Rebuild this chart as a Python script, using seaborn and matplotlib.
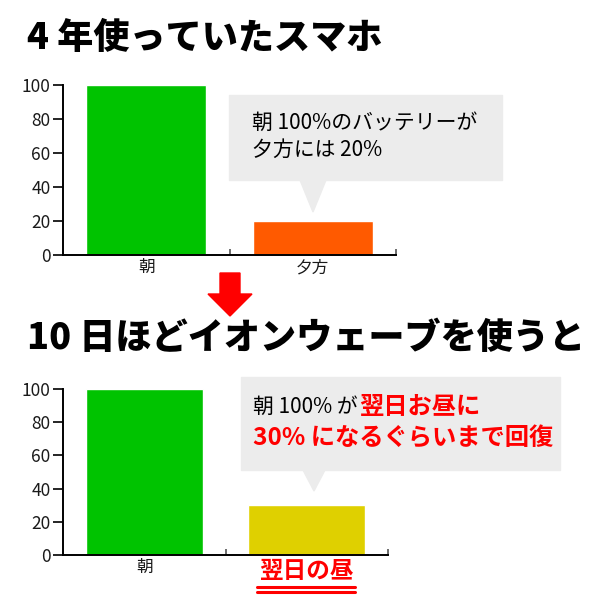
import numpy as np
import pandas as pd
import seaborn as sns
import matplotlib.pyplot as plt
from matplotlib.patches import Rectangle, Polygon, FancyArrow
from matplotlib.lines import Line2D

# data
top_labels = ["朝", "夕方"]
top_values = [100, 20]
top_colors = ["#00c300", "#ff5a00"]
bottom_labels = ["朝", "翌日の昼"]
bottom_values = [100, 30]
bottom_colors = ["#00c300", "#dfd000"]
yticks = [0, 20, 40, 60, 80, 100]

title_top = "4 年使っていたスマホ"
title_bottom = "10 日ほどイオンウェーブを使うと"
note_top = ["朝 100%のバッテリーが", "夕方には 20%"]
note_bottom_black = "朝 100% が"
note_bottom_red = ["翌日お昼に", "30% になるぐらいまで回復"]

sns.set_style("white")
plt.rcParams['font.family'] = ['Noto Sans CJK JP', 'DejaVu Sans']
plt.rcParams['text.color'] = 'black'

W = H = 600
fig = plt.figure(figsize=(6, 6), dpi=100)


def fx(x):
    return x / W


def fy(y):
    return 1 - y / H


def bar_panel(rect, labels, values, colors):
    l, t, r, b = rect
    ax = fig.add_axes([fx(l), fy(b), fx(r) - fx(l), fy(t) - fy(b)])
    df = pd.DataFrame({"cat": labels, "val": values})
    sns.barplot(data=df, x="cat", y="val", hue="cat", palette=colors,
                width=0.72, legend=False, saturation=1, ax=ax)
    ax.set_xlim(-0.5, 1.5)
    ax.set_ylim(0, 100)
    ax.set_yticks(yticks)
    ax.set_xlabel("")
    ax.set_ylabel("")
    sns.despine(ax=ax)
    for s in ["left", "bottom"]:
        ax.spines[s].set_linewidth(1.4)
        ax.spines[s].set_color("black")
    ax.tick_params(axis="y", length=7, width=1.2, direction="out",
                   labelsize=12.5, labelcolor="#1a1a1a", color="black",
                   pad=2, left=True)
    ax.tick_params(axis="x", which="major", length=0, labelsize=12,
                   labelcolor="#1a1a1a", pad=3)
    ax.set_xticks([0.5, 1.5], minor=True)
    ax.tick_params(axis="x", which="minor", length=4, width=1.2,
                   direction="in", color="#555555", bottom=True)
    return ax


def callout(l, t, r, b, tip_x, tip_y, base_w):
    fig.patches.append(Rectangle((fx(l), fy(b)), fx(r) - fx(l), fy(t) - fy(b),
                                 transform=fig.transFigure, color="#ececec",
                                 zorder=0))
    fig.patches.append(Polygon([(fx(tip_x - base_w / 2), fy(b)),
                                (fx(tip_x + base_w / 2), fy(b)),
                                (fx(tip_x), fy(tip_y))],
                               transform=fig.transFigure, color="#ececec",
                               zorder=0))


# titles
fig.text(fx(27), fy(38), title_top, fontsize=26, fontweight="heavy",
         va="center", ha="left", color="black")
fig.text(fx(27), fy(338), title_bottom, fontsize=26, fontweight="heavy",
         va="center", ha="left", color="black")

# top panel
ax1 = bar_panel((63, 85, 396, 255), top_labels, top_values, top_colors)
callout(229, 95, 502, 180, 313, 212, 26)
fig.text(fx(252), fy(123), note_top[0], fontsize=15, va="center")
fig.text(fx(252), fy(150), note_top[1], fontsize=15, va="center")

# arrow
fig.patches.append(FancyArrow(fx(230), fy(273), 0, fy(316) - fy(273),
                              width=20 / H, head_width=44 / H,
                              head_length=22 / H, length_includes_head=True,
                              transform=fig.transFigure, color="#ff0000"))

# bottom panel
ax2 = bar_panel((63, 389, 388, 555), bottom_labels, bottom_values, bottom_colors)
lab = ax2.get_xticklabels()[1]
lab.set_color("#ff0000")
lab.set_fontweight("bold")
lab.set_fontsize(17)

callout(241, 377, 560, 470, 314, 491, 22)
t1 = fig.text(fx(253), fy(407), note_bottom_black, fontsize=15, va="center")
fig.canvas.draw()
rend = fig.canvas.get_renderer()
bb = t1.get_window_extent(rend)
fig.text(bb.x1 / W + fx(1), fy(407), note_bottom_red[0], fontsize=17.5,
         fontweight="bold", color="#ff0000", va="center")
fig.text(fx(253), fy(438), note_bottom_red[1], fontsize=17.5,
         fontweight="bold", color="#ff0000", va="center")

# double underline below the red tick label
bb = lab.get_window_extent(rend)
for off in (4, 9):
    yy = (bb.y0 - off) / H
    fig.add_artist(Line2D([bb.x0 / W - fx(3), bb.x1 / W + fx(1)], [yy, yy],
                          transform=fig.transFigure, color="#ff0000", lw=2.2))

fig.savefig("out.png", dpi=100)
